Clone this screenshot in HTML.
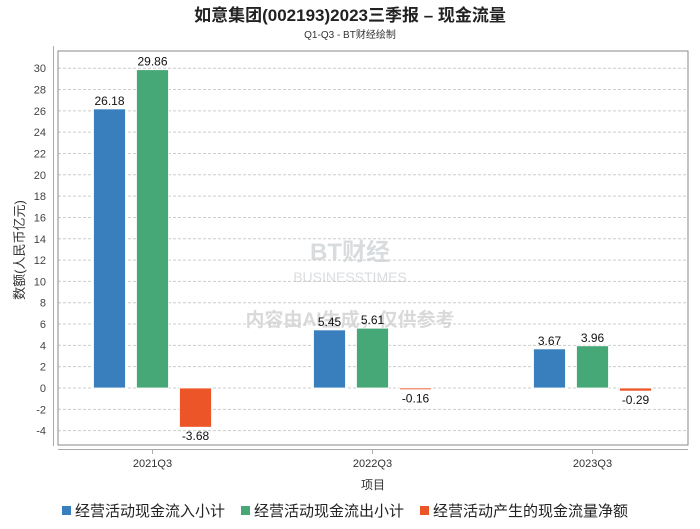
<!DOCTYPE html>
<html><head><meta charset="utf-8"><style>
body{margin:0;background:#fff;font-family:"Liberation Sans","Noto Sans CJK SC",sans-serif}
</style></head><body>
<svg width="700" height="524" xmlns="http://www.w3.org/2000/svg" font-family="Liberation Sans, Noto Sans CJK SC, sans-serif" id="chart">
<text x="350" y="21" text-anchor="middle" font-size="17" font-weight="bold" fill="#222">如意集团(002193)2023三季报 – 现金流量</text>
<text x="350" y="38" text-anchor="middle" font-size="10" fill="#333">Q1-Q3 - BT财经绘制</text>
<g opacity="0.18">
<text x="350" y="260" text-anchor="middle" font-size="24" font-weight="bold" fill="#345">BT财经</text>
<text x="350" y="282" text-anchor="middle" font-size="14" fill="#345">BUSINESSTIMES</text>
<text x="350" y="326" text-anchor="middle" font-size="19" font-weight="bold" fill="#333">内容由AI生成，仅供参考</text>
</g>
<g id="grid"></g>
<rect x="58" y="51" width="630" height="394" fill="none" stroke="#888" stroke-width="1"/>
<line x1="53.5" y1="46" x2="53.5" y2="446" stroke="#aaa"/>
<line x1="58" y1="449.5" x2="688" y2="449.5" stroke="#aaa"/>
<g id="bars"></g>
<text transform="translate(24,250) rotate(-90)" text-anchor="middle" font-size="13" fill="#333">数额(人民币亿元)</text>
<text x="373" y="489" text-anchor="middle" font-size="12" fill="#333">项目</text>
<g id="legend"></g>
</svg>
<script>
const categories=["2021Q3","2022Q3","2023Q3"];
const seriesNames=["经营活动现金流入小计","经营活动现金流出小计","经营活动产生的现金流量净额"];
const inflow=[26.18,5.45,3.67];
const outflow=[29.86,5.61,3.96];
const net=[-3.68,-0.16,-0.29];
const yTicks=[-4,-2,0,2,4,6,8,10,12,14,16,18,20,22,24,26,28,30];
const colors=["#3a7fbd","#45a876","#eb5527"];
const NS="http://www.w3.org/2000/svg";
const y=v=>388-v*10.66;
const x=i=>152.5+220*i;
function mk(tag,attrs,parent){const e=document.createElementNS(NS,tag);for(const k in attrs)e.setAttribute(k,attrs[k]);parent.appendChild(e);return e;}
const grid=document.getElementById('grid');
yTicks.forEach(t=>{
 const l=mk('line',{x1:58,x2:688,y1:y(t),y2:y(t),stroke:'#ccc','stroke-dasharray':'3,2'},grid);
 
 
 const tx=mk('text',{x:46,y:y(t)+4,'text-anchor':'end','font-size':11,fill:'#444'},grid);
 tx.textContent=t;
 
 
});
const bars=document.getElementById('bars');
const series=[inflow,outflow,net];
categories.forEach((c,i)=>{
 const tk=mk('line',{x1:x(i),x2:x(i),y1:450,y2:454,stroke:'#aaa'},bars);
 
 
 const cl=mk('text',{x:x(i),y:467,'text-anchor':'middle','font-size':11,fill:'#333'},bars);
 cl.textContent=c;
 
 
 series.forEach((s,j)=>{
  const v=s[i];const cx=x(i)+(j-1)*43;
  const top=Math.min(y(v),y(0)),h=Math.abs(y(v)-y(0));
  const r=mk('rect',{x:cx-16,y:top,width:32,height:Math.max(h,1),fill:colors[j],stroke:'#fff','stroke-width':0.8},bars);
  
  
  const lb=mk('text',{x:cx,y:v>=0?y(v)-4:y(v)+13,'text-anchor':'middle','font-size':12,fill:'#111'},bars);
  lb.textContent=v.toFixed(2);
  
  
 });
});
const lg=document.getElementById('legend');
const lx=[62,241,420];
seriesNames.forEach((n,j)=>{
 const r=mk('rect',{x:lx[j],y:506,width:9,height:9,fill:colors[j]},lg);
 
 
 const t=mk('text',{x:lx[j]+13,y:516,'font-size':15,fill:'#222'},lg);
 t.textContent=n;
 
 
});
</script>
</body></html>
